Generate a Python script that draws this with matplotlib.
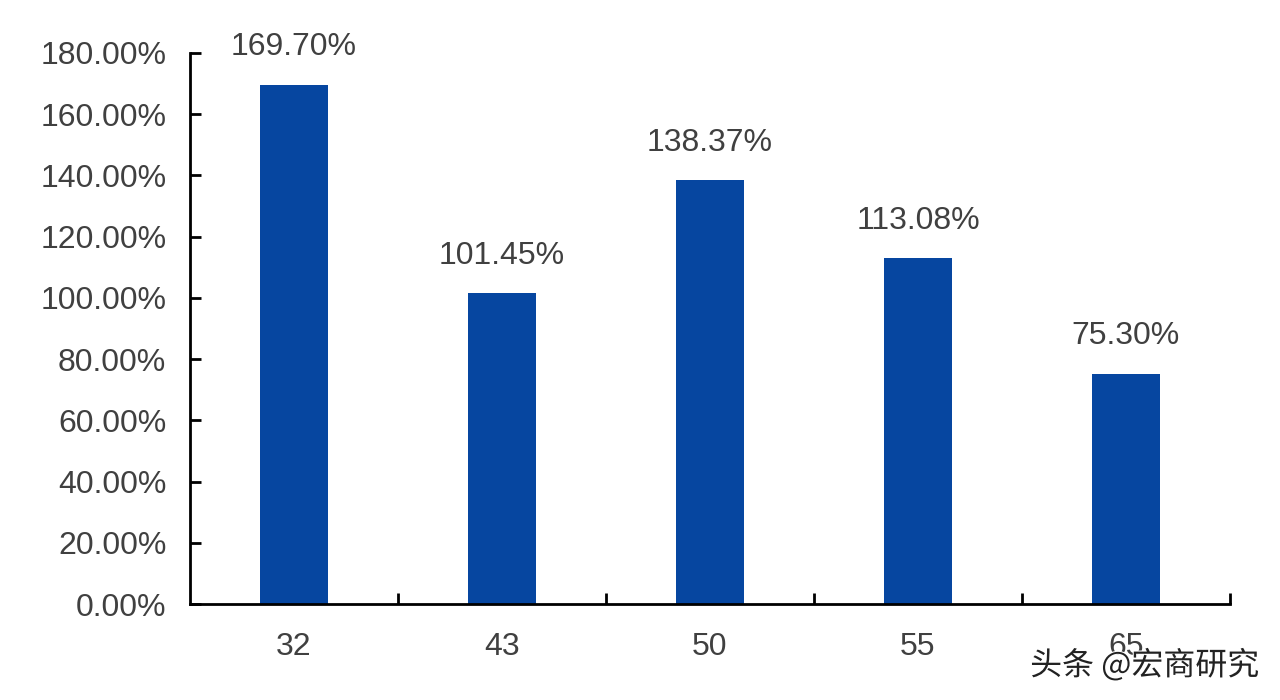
import matplotlib
matplotlib.use('Agg')
import matplotlib.pyplot as plt
import matplotlib.patheffects as pe
from matplotlib.ticker import FuncFormatter

# data
categories = ['32', '43', '50', '55', '65']
values = [169.70, 101.45, 138.37, 113.08, 75.30]
yticks = [0, 20, 40, 60, 80, 100, 120, 140, 160, 180]

bar_color = '#0646a0'
text_color = '#404040'

plt.rcParams['font.family'] = ['Liberation Sans', 'Noto Sans CJK SC', 'DejaVu Sans']

fig = plt.figure(figsize=(12.8, 7), dpi=100)
ax = fig.add_axes([0.1484, 0.1371, 0.8125, 0.7872])

x = list(range(len(categories)))
ax.bar(x, values, width=0.33, color=bar_color, zorder=2)

for xi, v in zip(x, values):
    ax.annotate('%.2f%%' % v, (xi, v), xytext=(0, 16), textcoords='offset points',
                ha='center', va='bottom', fontsize=23, color=text_color)

ax.set_xlim(-0.5, len(categories) - 0.5)
ax.set_ylim(0, 180)
ax.set_yticks(yticks)
ax.yaxis.set_major_formatter(FuncFormatter(lambda v, p: '%.2f%%' % v))

# category labels centred, tick marks on the boundaries
ax.set_xticks([i + 0.5 for i in x])
ax.set_xticklabels([])
ax.set_xticks(x, minor=True)
ax.set_xticklabels(categories, minor=True)
ax.tick_params(axis='x', which='minor', length=0, pad=20, labelsize=23, labelcolor=text_color)
ax.tick_params(axis='x', which='major', direction='in', length=8, width=2)
ax.tick_params(axis='y', direction='in', length=8, width=2, pad=17, labelsize=23, labelcolor=text_color)

for s in ['top', 'right']:
    ax.spines[s].set_visible(False)
for s in ['left', 'bottom']:
    ax.spines[s].set_linewidth(2)

# watermark
fig.text(0.984, 0.049, '头条 @宏商研究', ha='right', va='center', fontsize=23, color='#222222',
         family=['Noto Sans CJK SC', 'DejaVu Sans'],
         path_effects=[pe.withStroke(linewidth=1.5, foreground='white')])

fig.savefig('out.png', dpi=100)
